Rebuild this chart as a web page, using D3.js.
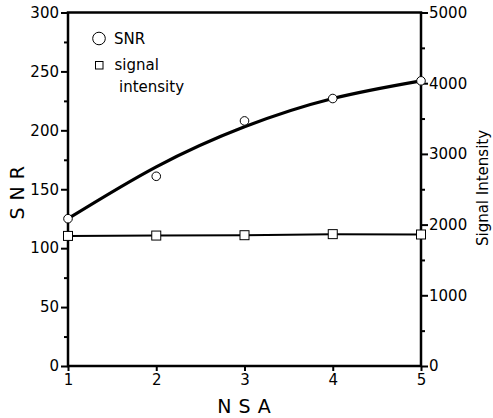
<!DOCTYPE html>
<html>
<head>
<meta charset="utf-8">
<script src="https://cdn.jsdelivr.net/npm/d3@7"></script>
<style>
  body { margin: 0; background: #fff; }
  text { font-family: "DejaVu Sans", sans-serif; fill: #000; }
</style>
</head>
<body>
<div id="chart"></div>
<script>
// NSA values on the x axis
const nsa = [1, 2, 3, 4, 5];
// measured SNR (circles)
const snr = [125, 161, 208, 227, 242];
// fitted SNR curve
const snrFit = [125, 169, 203, 227, 242];
// signal intensity (squares, right axis)
const signal = [1840, 1845, 1850, 1865, 1860];

const leftTicks = [0, 50, 100, 150, 200, 250, 300];
const rightTicks = [0, 1000, 2000, 3000, 4000, 5000];

const W = 493, H = 418;
const margin = {top: 12.5, right: 72, bottom: 52, left: 68};
const width = W - margin.left - margin.right,
    height = H - margin.top - margin.bottom;

var svg = d3.select("#chart").append("svg")
    .attr("width", W)
    .attr("height", H);

var g = svg.append("g").attr("transform", "translate(" + margin.left + "," + margin.top + ")");

var x = d3.scaleLinear().domain([1, 5]).range([0, width]);
var y = d3.scaleLinear().domain([0, 300]).range([height, 0]);
var y2 = d3.scaleLinear().domain([0, 5000]).range([height, 0]);

// minor ticks first
g.append("g")
    .attr("class", "axis axis--y minor")
    .call(d3.axisLeft(y).tickValues(d3.range(25, 300, 50)).tickSize(4).tickFormat(""));
g.append("g")
    .attr("transform", "translate(" + width + ",0)")
    .call(d3.axisRight(y2).tickValues(d3.range(500, 5000, 1000)).tickSize(4).tickFormat(""));

// left axis
g.append("g")
    .attr("class", "axis axis--y")
    .call(d3.axisLeft(y).tickValues(leftTicks).tickSize(7).tickPadding(2));

// right axis
g.append("g")
    .attr("class", "axis axis--y2")
    .attr("transform", "translate(" + width + ",0)")
    .call(d3.axisRight(y2).tickValues(rightTicks).tickFormat(d3.format("d")).tickSize(7).tickPadding(1));

// x axis
g.append("g")
    .attr("class", "axis axis--x")
    .attr("transform", "translate(0," + height + ")")
    .call(d3.axisBottom(x).tickValues(nsa).tickFormat(d3.format("d")).tickSize(5).tickPadding(3));

g.selectAll(".domain").remove();
g.selectAll(".tick line").attr("stroke", "#000").attr("stroke-width", 2);
g.selectAll(".tick text")
    .style("font-size", "15px")
    .style("font-family", "'DejaVu Sans', sans-serif")
    .attr("fill", "#000");

// frame
g.append("rect")
    .attr("x", 0).attr("y", 0)
    .attr("width", width).attr("height", height)
    .attr("fill", "none")
    .attr("stroke", "#000")
    .attr("stroke-width", 2.5);

// signal intensity line
g.append("path")
    .datum(nsa)
    .attr("fill", "none")
    .attr("stroke", "#000")
    .attr("stroke-width", 2)
    .attr("d", d3.line()
        .x(function(d) { return x(d); })
        .y(function(d, i) { return y2(signal[i]); }));

// fitted SNR curve
g.append("path")
    .datum(nsa)
    .attr("fill", "none")
    .attr("stroke", "#000")
    .attr("stroke-width", 3.2)
    .attr("d", d3.line()
        .curve(d3.curveNatural)
        .x(function(d) { return x(d); })
        .y(function(d, i) { return y(snrFit[i]); }));

// squares
g.selectAll(".sq")
    .data(nsa)
    .enter().append("rect")
    .attr("class", "sq")
    .attr("x", function(d) { return x(d) - 4.5; })
    .attr("y", function(d, i) { return y2(signal[i]) - 4.5; })
    .attr("width", 9).attr("height", 9)
    .attr("fill", "#fff")
    .attr("stroke", "#000")
    .attr("stroke-width", 1);

// circles
g.selectAll(".pt")
    .data(nsa)
    .enter().append("circle")
    .attr("class", "pt")
    .attr("cx", function(d) { return x(d); })
    .attr("cy", function(d, i) { return y(snr[i]); })
    .attr("r", 4.3)
    .attr("fill", "#fff")
    .attr("stroke", "#000")
    .attr("stroke-width", 1);

// legend
var leg = svg.append("g");
leg.append("circle").attr("cx", 99).attr("cy", 38.5).attr("r", 6.3)
    .attr("fill", "#fff").attr("stroke", "#000").attr("stroke-width", 1);
leg.append("text").attr("x", 114).attr("y", 44).style("font-size", "15px").text("SNR");
leg.append("rect").attr("x", 95.5).attr("y", 61.5).attr("width", 7.5).attr("height", 7.5)
    .attr("fill", "#fff").attr("stroke", "#000").attr("stroke-width", 1);
leg.append("text").attr("x", 114.5).attr("y", 70).style("font-size", "15px").text("signal");
leg.append("text").attr("x", 119).attr("y", 92).style("font-size", "15px").text("intensity");

// y-axis title
svg.append("text")
    .attr("transform", "translate(24," + (margin.top + height / 2) + ") rotate(-90)")
    .style("text-anchor", "middle")
    .style("font-size", "19px")
    .style("letter-spacing", "7px")
    .text("SNR");

// right axis title
svg.append("text")
    .attr("transform", "translate(488," + 188 + ") rotate(-90)")
    .style("text-anchor", "middle")
    .style("font-size", "15px")
    .text("Signal Intensity");

// x-axis title
svg.append("text")
    .attr("x", margin.left + width / 2 + 3)
    .attr("y", 413)
    .style("text-anchor", "middle")
    .style("font-size", "19px")
    .style("letter-spacing", "7px")
    .text("NSA");
</script>
</body>
</html>
